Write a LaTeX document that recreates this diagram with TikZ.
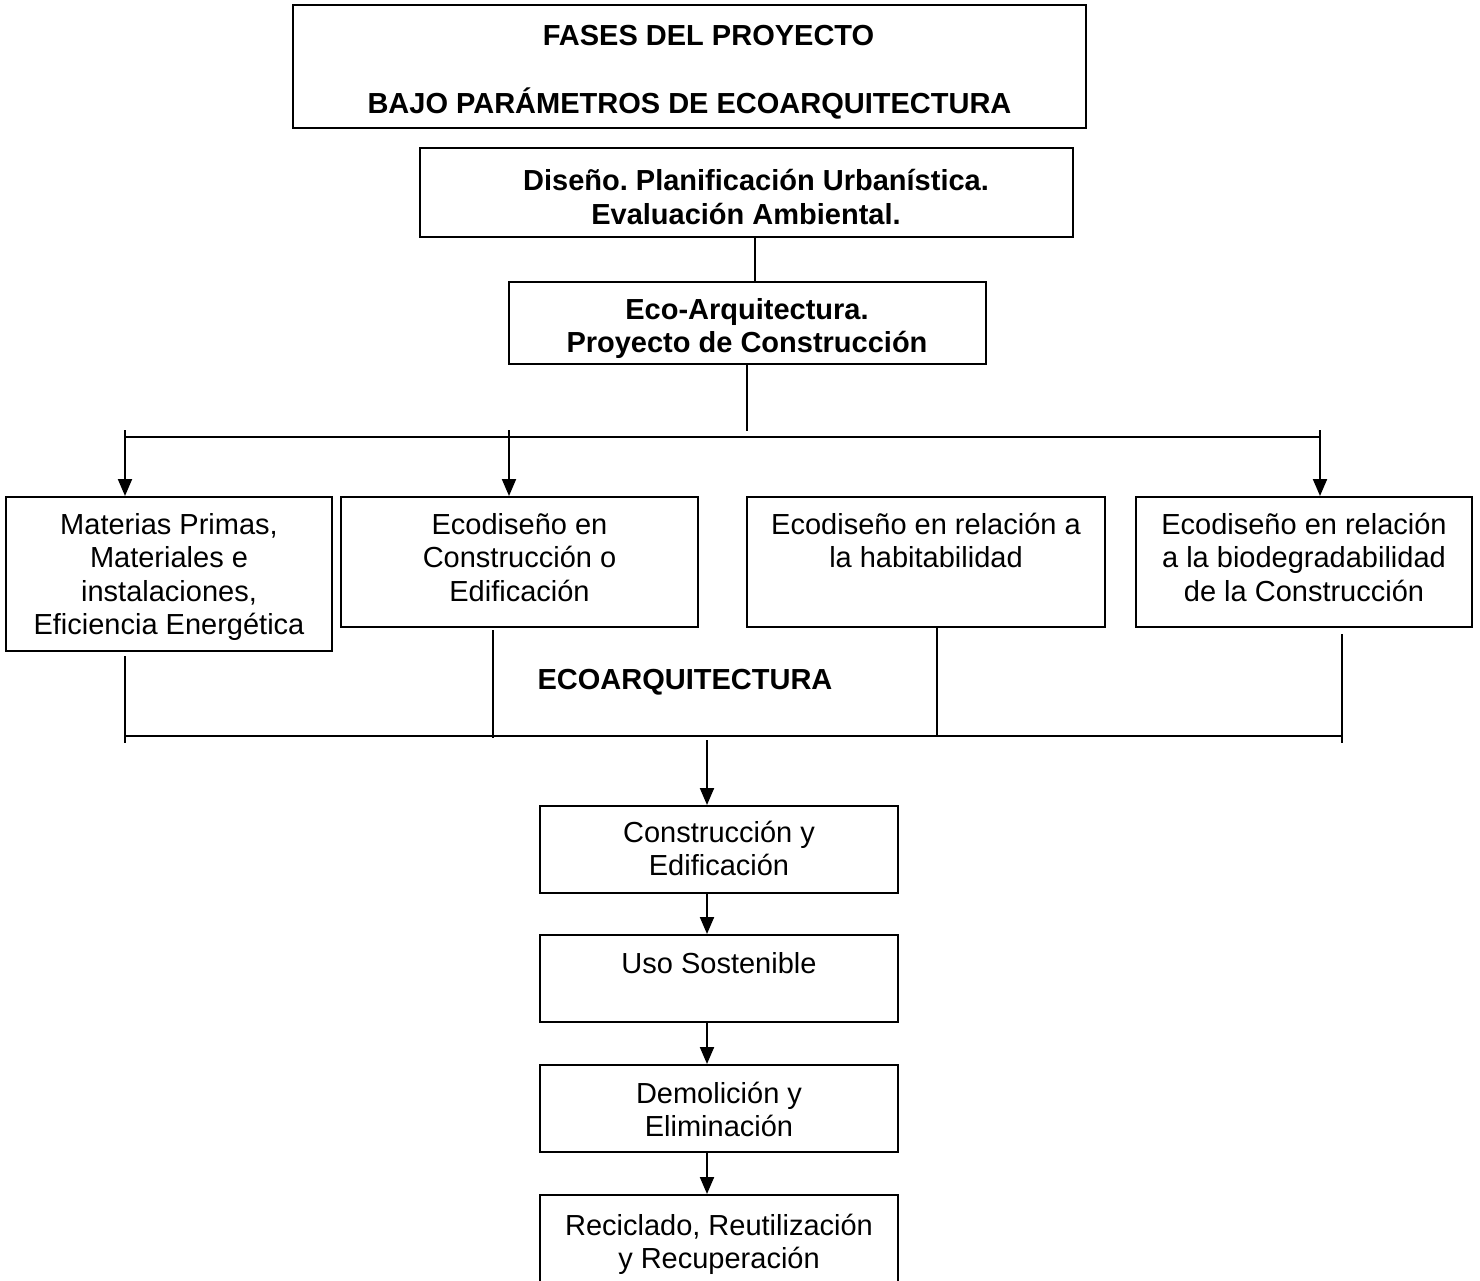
\documentclass[tikz,border=0pt]{standalone}
\usepackage{fontspec}
\setmainfont{Liberation Sans}
\usetikzlibrary{arrows.meta,calc}
\newcommand{\firstline}{\rule{0pt}{30pt}}
\tikzset{
  box/.style={draw, line width=2pt, rectangle, inner sep=0pt},
  txt/.style={anchor=north, inner sep=0pt, align=center,
              font=\fontsize{29}{33.5}\selectfont},
  btxt/.style={txt, font=\fontsize{29}{33.5}\selectfont\bfseries},
  conn/.style={line width=2pt},
  arr/.style={line width=2pt, -{Triangle[length=17pt,width=14pt]}},
  lbl/.style={anchor=base, inner sep=0pt, font=\fontsize{29}{33.5}\selectfont\bfseries}
}
\begin{document}
\frenchspacing
\begin{tikzpicture}[x=1pt,y=-1pt]
\useasboundingbox (0,0) rectangle (1480,1281);
% header boxes
\node[box, minimum width=793pt, minimum height=123pt] (title) at (689.5,66.5) {};
\node[btxt] (titletext) at (689.5,15.5)
  {\firstline\hspace*{38pt}FASES DEL PROYECTO\\[34.5pt]BAJO PARÁMETROS DE ECOARQUITECTURA};
\node[box, minimum width=653pt, minimum height=89pt] (diseno) at (746.5,192.5) {};
\node[btxt] (disenotext) at (746,160.5)
  {\firstline\hspace*{20pt}Diseño. Planificación Urbanística.\\Evaluación Ambiental.};
\node[box, minimum width=477pt, minimum height=82pt] (eco) at (747.5,323) {};
\node[btxt] (ecotext) at (747,289)
  {\firstline Eco-Arquitectura.\\Proyecto de Construcción};
% four boxes
\node[box, minimum width=326pt, minimum height=154pt] (b1) at (169,574) {};
\node[txt] (b1text) at (169,504)
  {\firstline Materias Primas,\\Materiales e\\instalaciones,\\Eficiencia Energética};
\node[box, minimum width=357pt, minimum height=130pt] (b2) at (519.5,562) {};
\node[txt] (b2text) at (519.5,504)
  {\firstline Ecodiseño en\\Construcción o\\Edificación};
\node[box, minimum width=358pt, minimum height=130pt] (b3) at (926,562) {};
\node[txt] (b3text) at (926,504)
  {\firstline Ecodiseño en relación a\\la habitabilidad};
\node[box, minimum width=336pt, minimum height=130pt] (b4) at (1304,562) {};
\node[txt] (b4text) at (1304,504)
  {\firstline Ecodiseño en relación\\a la biodegradabilidad\\de la Construcción};
% label
\node[lbl] (ecoarq) at (685,689) {ECOARQUITECTURA};
% lower chain
\node[box, minimum width=358pt, minimum height=87pt] (c1) at (719,849.5) {};
\node[txt] (c1text) at (719,812) {\firstline Construcción y\\Edificación};
\node[box, minimum width=358pt, minimum height=87pt] (c2) at (719,978.5) {};
\node[txt] (c2text) at (719,943) {\firstline Uso Sostenible};
\node[box, minimum width=358pt, minimum height=87pt] (c3) at (719,1108.5) {};
\node[txt] (c3text) at (719,1073) {\firstline Demolición y\\Eliminación};
\node[box, minimum width=358pt, minimum height=90pt] (c4) at (719,1240) {};
\node[txt] (c4text) at (719,1205) {\firstline Reciclado, Reutilización\\y Recuperación};
% coordinates of buses
\coordinate (topbusL) at (125,437);
\coordinate (topbusR) at (1320,437);
\coordinate (ecoEnd) at (747,431);
\coordinate (s1) at (125,430);
\coordinate (s2) at (509,430);
\coordinate (s4) at (1320,430);
\coordinate (botbusL) at (125,736);
\coordinate (botbusR) at (1342,736);
\coordinate (d1a) at (125,656);
\coordinate (d1b) at (125,743);
\coordinate (d2a) at (493,630);
\coordinate (d2b) at (493,738);
\coordinate (d3b) at (937,736);
\coordinate (d4a) at (1342,634);
\coordinate (d4b) at (1342,743);
\coordinate (down) at (707,740);
% connectors top
\draw[conn] ([xshift=8.5pt]diseno.south) -- ([xshift=8.5pt]diseno.south |- eco.north);
\draw[conn] (eco.south -| ecoEnd) -- (ecoEnd);
\draw[conn] (topbusL) -- (topbusR);
\draw[arr] (s1) -- (s1 |- b1.north);
\draw[arr] (s2) -- (s2 |- b2.north);
\draw[arr] (s4) -- (s4 |- b4.north);
% connectors bottom
\draw[conn] (botbusL) -- (botbusR);
\draw[conn] (d1a) -- (d1b);
\draw[conn] (d2a) -- (d2b);
\draw[conn] (d3b |- b3.south) -- (d3b);
\draw[conn] (d4a) -- (d4b);
\draw[arr] (down) -- (down |- c1.north);
\draw[arr] (c1.south -| down) -- (c2.north -| down);
\draw[arr] (c2.south -| down) -- (c3.north -| down);
\draw[arr] (c3.south -| down) -- (c4.north -| down);
\end{tikzpicture}
\end{document}
